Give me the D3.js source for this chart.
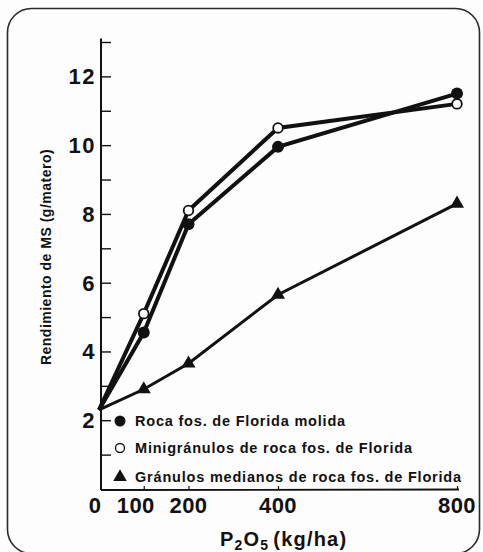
<!DOCTYPE html>
<html><head><meta charset="utf-8">
<script src="https://cdn.jsdelivr.net/npm/d3@7"></script>
<style>body{margin:0;background:#fff}svg{display:block}text{font-family:"Liberation Sans",Arial,sans-serif;font-weight:bold;fill:#111}</style>
</head><body>
<script>
const doses = [0, 100, 200, 400, 800];
const molida = [2.3, 4.55, 7.7, 9.95, 11.5];
const minigranulos = [2.3, 5.1, 8.1, 10.5, 11.2];
const medianos = [2.3, 2.9, 3.65, 5.65, 8.3];
const seriesNames = ["Roca fos. de Florida molida", "Minigránulos de roca fos. de Florida", "Gránulos medianos de roca fos. de Florida"];
const yMajorTicks = [2, 4, 6, 8, 10, 12];
const yAllTicks = [1,2,3,4,5,6,7,8,9,10,11,12,13];
const xTicks = [0, 100, 200, 400, 800];

const W = 483, H = 552;
const svg = d3.select("body").append("svg").attr("width", W).attr("height", H);
svg.append("rect").attr("width", W).attr("height", H).attr("fill", "#fdfdfd");
svg.append("rect").attr("x", 7.5).attr("y", 8.5).attr("width", 472).attr("height", 545).attr("rx", 24)
  .attr("fill", "none").attr("stroke", "#2a2a2a").attr("stroke-width", 1.6);

const x = d3.scaleLinear().domain([0, 800]).range([99, 457]);
const y = d3.scaleLinear().domain([0, 13]).range([489, 42]);
const x0 = 101;

// y axis
const ya = svg.append("g").attr("transform", `translate(${x0},0)`);
ya.call(d3.axisRight(y).tickValues(yAllTicks).tickSize(10).tickFormat(""));
ya.select(".domain").remove();
ya.selectAll(".tick line").attr("stroke", "#111").attr("stroke-width", 1.4);
ya.append("line").attr("x1", 0).attr("x2", 0).attr("y1", y(13.1)).attr("y2", y(0)+1).attr("stroke", "#111").attr("stroke-width", 2);
svg.selectAll(".ylab").data(yMajorTicks).enter().append("text")
  .attr("x", 96).attr("y", d => y(d)).attr("dy", "0.36em").attr("text-anchor", "end")
  .attr("font-size", 22).attr("letter-spacing", 1.5).text(d => d);

// x axis
svg.append("line").attr("x1", x0).attr("x2", x(800)+2).attr("y1", 490).attr("y2", 489.5).attr("stroke", "#111").attr("stroke-width", 1.8);
const xa = svg.append("g").attr("transform", "translate(0,490)");
xa.call(d3.axisTop(x).tickValues(xTicks.slice(1)).tickSize(4).tickFormat(""));
xa.select(".domain").remove();
xa.selectAll(".tick line").attr("stroke", "#111").attr("stroke-width", 1.2);
svg.selectAll(".xlab").data(xTicks).enter().append("text")
  .attr("x", d => d === 0 ? 95 : x(d) - (d === 100 ? 8 : 0)).attr("y", 513).attr("text-anchor", "middle")
  .attr("font-size", 22).attr("letter-spacing", 0.5).text(d => d);

// axis titles
const xt = svg.append("text").attr("x", 220).attr("y", 546).attr("font-size", 20).attr("letter-spacing", 1.2);
xt.append("tspan").text("P");
xt.append("tspan").attr("font-size", 14).attr("dy", 4).text("2");
xt.append("tspan").attr("dy", -4).text("O");
xt.append("tspan").attr("font-size", 14).attr("dy", 4).text("5");
xt.append("tspan").attr("dy", -4).attr("dx", 4).text("(kg/ha)");

svg.append("text").attr("transform", "translate(51,257) rotate(-90)").attr("text-anchor", "middle")
  .attr("font-size", 14).attr("letter-spacing", 0.5).text("Rendimiento de MS (g/matero)");

// lines
const line = d3.line().x(d => x(d[0])).y(d => y(d[1]));
const zip = v => doses.map((d, i) => [d, v[i]]);
svg.append("path").datum(zip(medianos)).attr("d", line).attr("fill", "none").attr("stroke", "#111").attr("stroke-width", 3);
svg.append("path").datum(zip(molida)).attr("d", line).attr("fill", "none").attr("stroke", "#111").attr("stroke-width", 4);
svg.append("path").datum(zip(minigranulos)).attr("d", line).attr("fill", "none").attr("stroke", "#111").attr("stroke-width", 4);

const tri = d3.symbol().type(d3.symbolTriangle).size(85);
svg.selectAll(".tri").data(zip(medianos).slice(1)).enter().append("path")
  .attr("d", tri).attr("transform", d => `translate(${x(d[0])},${y(d[1])})`).attr("fill", "#111");
svg.selectAll(".fc").data(zip(molida).slice(1)).enter().append("circle")
  .attr("cx", d => x(d[0])).attr("cy", d => y(d[1])).attr("r", 6).attr("fill", "#111");
svg.selectAll(".oc").data(zip(minigranulos).slice(1)).enter().append("circle")
  .attr("cx", d => x(d[0])).attr("cy", d => y(d[1])).attr("r", 4.8).attr("fill", "#fff").attr("stroke", "#111").attr("stroke-width", 1.8);

// legend
const legY = [421, 448, 477];
const lg = svg.append("g");
lg.append("circle").attr("cx", 120).attr("cy", legY[0]).attr("r", 5.5).attr("fill", "#111");
lg.append("circle").attr("cx", 120).attr("cy", legY[1]).attr("r", 4.5).attr("fill", "#fff").attr("stroke", "#111").attr("stroke-width", 1.3);
lg.append("path").attr("d", d3.symbol().type(d3.symbolTriangle).size(80)).attr("transform", `translate(120,${legY[2]})`).attr("fill", "#111");
seriesNames.forEach((n, i) => {
  lg.append("text").attr("x", 135).attr("y", legY[i]).attr("dy", "0.36em").attr("font-size", 14.5).attr("letter-spacing", 0.8).text(n);
});
</script>
</body></html>
